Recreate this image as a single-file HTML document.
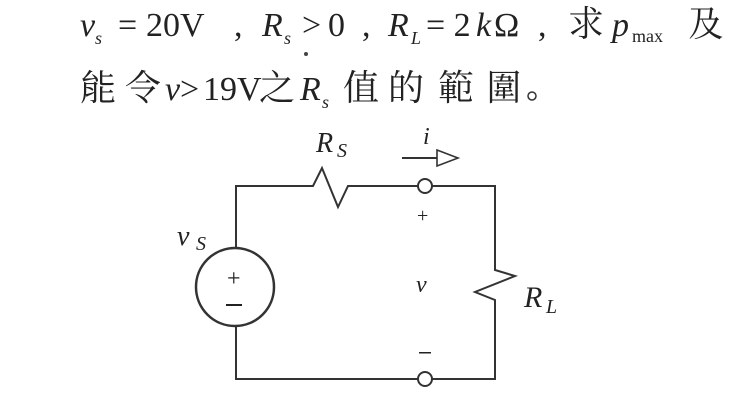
<!DOCTYPE html>
<html><head><meta charset="utf-8"><style>
body{margin:0;background:#fff}
svg{display:block}
.s{font-family:"Liberation Serif","Noto Serif CJK SC",serif;fill:#222}
.c{font-family:"Noto Serif CJK TC","Noto Serif CJK SC","Liberation Serif",serif;fill:#222}
</style></head><body>
<svg width="740" height="411" viewBox="0 0 740 411">
<g class="s" font-size="34">
<text x="80" y="36" font-style="italic">v</text><text x="95" y="44" font-size="18" font-style="italic">s</text>
<text x="118" y="36">=</text><text x="146" y="36">20V</text>
<text x="234" y="36">,</text>
<text x="262" y="36" font-style="italic">R</text><text x="284" y="44" font-size="18" font-style="italic">s</text>
<text x="302" y="36">&gt;</text><text x="328" y="36">0</text>
<text x="362" y="36">,</text>
<text x="388" y="36" font-style="italic">R</text><text x="411" y="44" font-size="18" font-style="italic">L</text>
<text x="426" y="36">= 2</text><text x="476" y="36" font-style="italic">k</text><text x="494" y="36">Ω</text>
<text x="538" y="36">,</text>
<text x="612" y="36" font-style="italic">p</text><text x="632" y="42" font-size="18">max</text>
<text x="165" y="100" font-style="italic">v</text><text x="180" y="100">&gt;</text><text x="203" y="100">19V</text>
<text x="300" y="100" font-style="italic">R</text><text x="322" y="108" font-size="18" font-style="italic">s</text>
</g>
<g class="c" font-size="36">
<text x="568" y="36">求</text><text x="688" y="36">及</text>
<text x="80" y="100">能</text><text x="125" y="100">令</text><text x="259" y="100">之</text>
<text x="343" y="100">值</text><text x="388" y="100">的</text><text x="438" y="100">範</text><text x="486" y="100">圍</text>
</g>
<circle cx="532" cy="96" r="4" fill="none" stroke="#333" stroke-width="1.5"/>
<circle cx="306" cy="54" r="2" fill="#444"/>
<g fill="none" stroke="#333" stroke-width="2">
<polyline points="236,248 236,186 313,186 322,168 338,207 348,186 418,186"/>
<polyline points="432,186 495,186 495,270 515,276 475,292 495,300 495,379 432,379"/>
<polyline points="418,379 236,379 236,326"/>
<circle cx="235" cy="287" r="39" stroke-width="2.5"/>
<circle cx="425" cy="186" r="7"/>
<circle cx="425" cy="379" r="7"/>
<line x1="402" y1="158" x2="437" y2="158"/>
<polygon points="437,150 458,158 437,166" stroke-width="1.6"/>
</g>
<g fill="#222" font-family="Liberation Serif,serif">
<text x="227" y="286" font-size="24">+</text>
<rect x="226" y="304" width="16" height="2"/>
<text x="417" y="222" font-size="20">+</text>
<rect x="419" y="352" width="12" height="1.5"/>
<text x="416" y="292" font-size="24" font-style="italic">v</text>
<text x="177" y="245" font-size="28" font-style="italic">v</text><text x="196" y="250" font-size="20" font-style="italic">S</text>
<text x="316" y="152" font-size="28" font-style="italic">R</text><text x="337" y="157" font-size="20" font-style="italic">S</text>
<text x="423" y="144" font-size="24" font-style="italic">i</text>
<text x="524" y="307" font-size="30" font-style="italic">R</text><text x="546" y="313" font-size="20" font-style="italic">L</text>
</g>
</svg>
</body></html>
